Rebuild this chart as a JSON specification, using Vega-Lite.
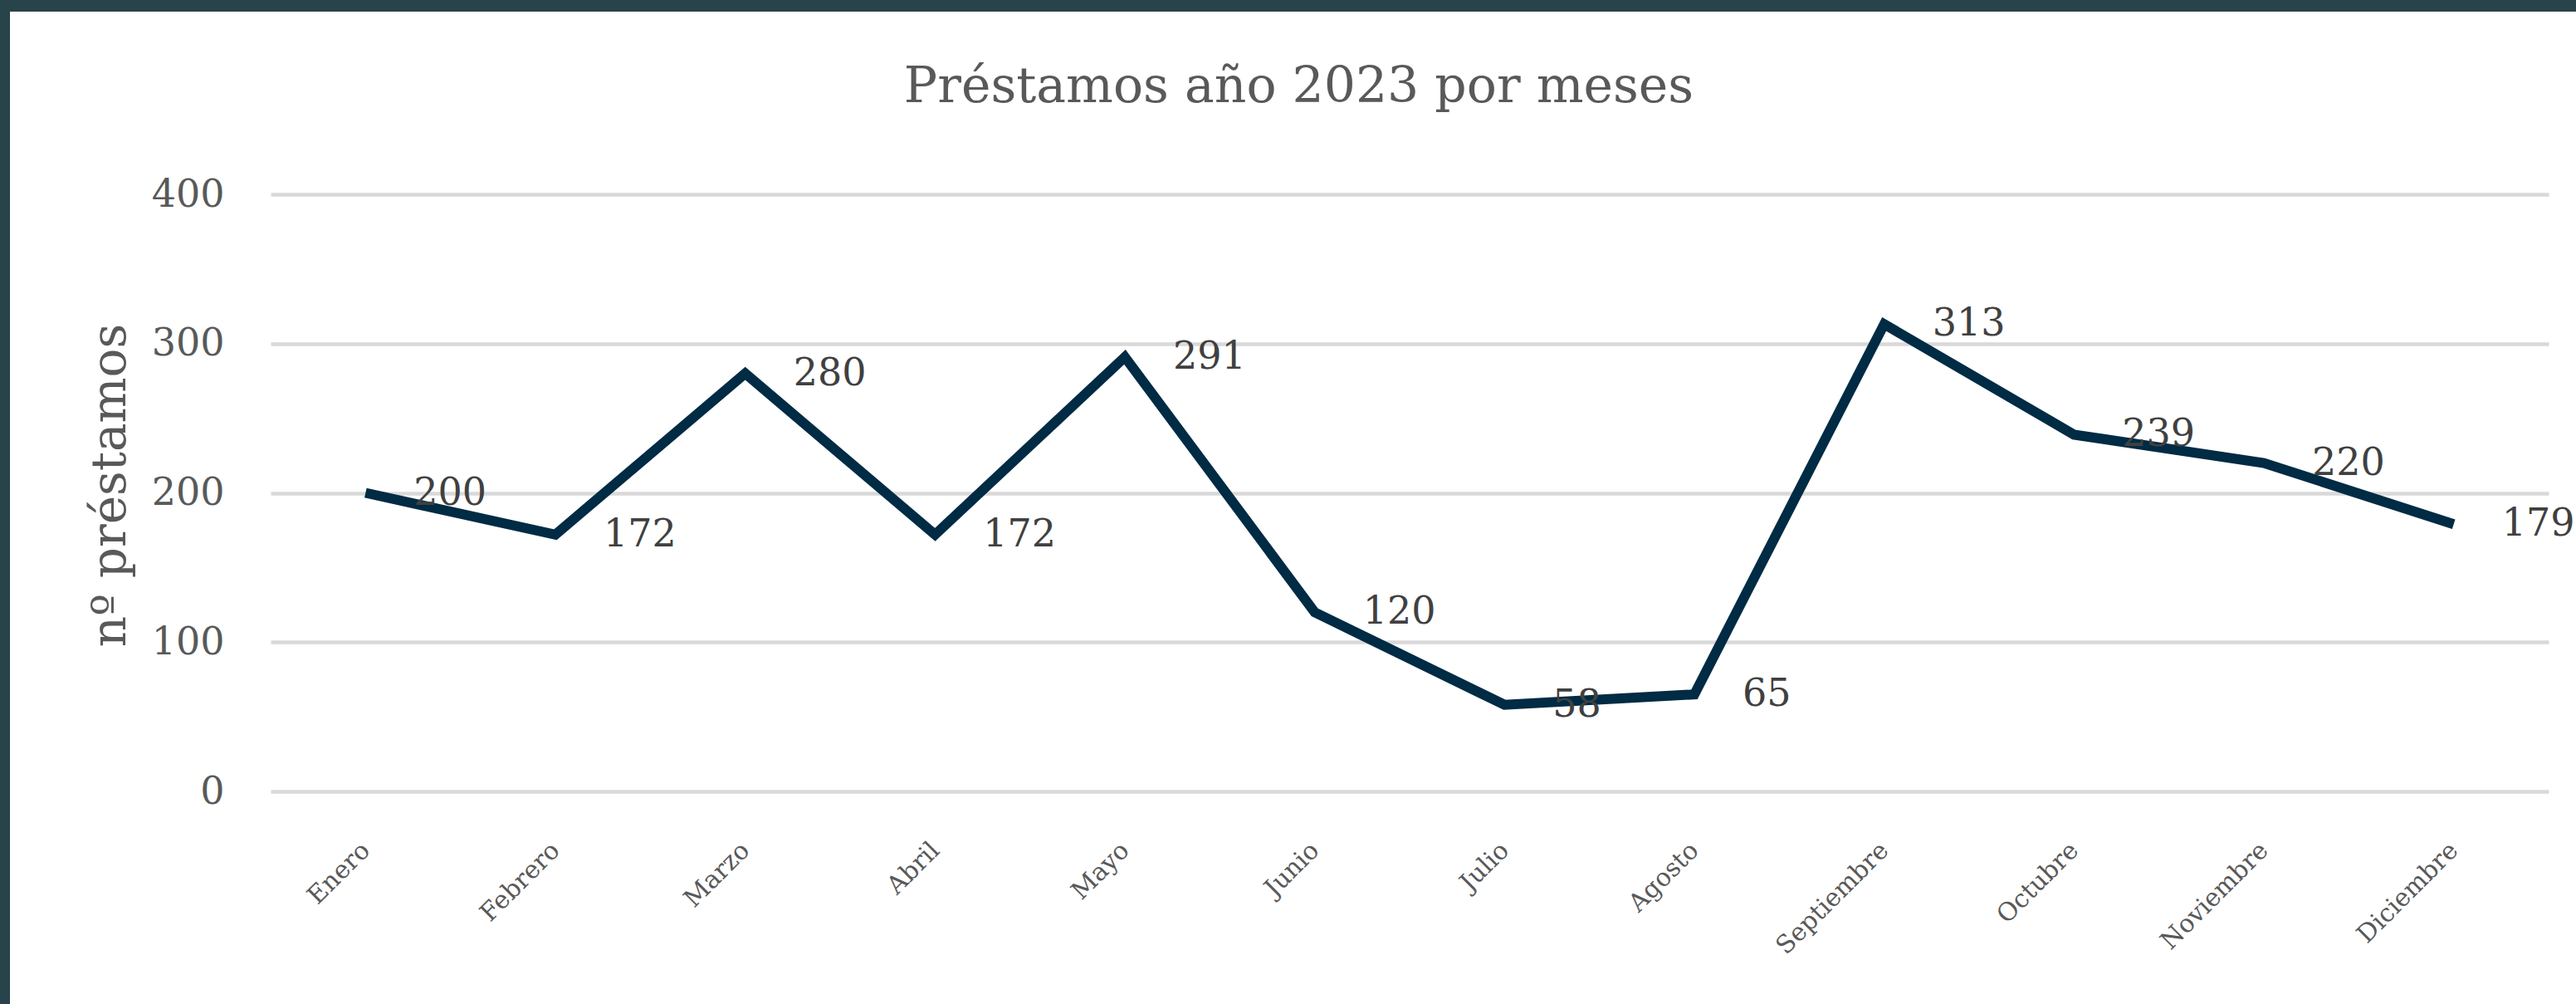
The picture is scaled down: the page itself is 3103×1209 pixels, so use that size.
{
  "$schema": "https://vega.github.io/schema/vega-lite/v6.json",
  "width": 3091,
  "height": 1195,
  "autosize": {"type": "none"},
  "padding": {"left": 12, "top": 14, "right": 0, "bottom": 0},
  "background": "#284349",
  "config": {
    "view": {"fill": "#FFFFFF", "stroke": null},
    "font": "DejaVu Serif"
  },
  "title": {
    "text": "Préstamos año 2023 por meses",
    "font": "DejaVu Serif",
    "fontSize": 60,
    "fontWeight": "normal",
    "color": "#595959",
    "anchor": "middle",
    "baseline": "alphabetic",
    "offset": 0,
    "dy": 169,
    "dx": 7
  },
  "data": {
    "values": [
      {"mes": "Enero", "prestamos": 200},
      {"mes": "Febrero", "prestamos": 172},
      {"mes": "Marzo", "prestamos": 280},
      {"mes": "Abril", "prestamos": 172},
      {"mes": "Mayo", "prestamos": 291},
      {"mes": "Junio", "prestamos": 120},
      {"mes": "Julio", "prestamos": 58},
      {"mes": "Agosto", "prestamos": 65},
      {"mes": "Septiembre", "prestamos": 313},
      {"mes": "Octubre", "prestamos": 239},
      {"mes": "Noviembre", "prestamos": 220},
      {"mes": "Diciembre", "prestamos": 179}
    ]
  },
  "encoding": {
    "x": {
      "field": "mes",
      "type": "nominal",
      "sort": null,
      "scale": {"type": "point", "range": [314, 3058], "padding": 0.5},
      "axis": {
        "orient": "bottom",
        "title": null,
        "domain": false,
        "ticks": false,
        "grid": false,
        "labelAngle": -45,
        "labelAlign": "right",
        "labelBaseline": "middle",
        "labelPadding": 0,
        "offset": -190,
        "labelFont": "DejaVu Serif",
        "labelFontSize": 30,
        "labelColor": "#595959"
      }
    },
    "y": {
      "field": "prestamos",
      "type": "quantitative",
      "scale": {"domain": [0, 400], "range": [939, 220], "nice": false, "zero": true},
      "axis": {
        "orient": "left",
        "title": "nº préstamos",
        "titleFont": "DejaVu Serif",
        "titleFontSize": 58,
        "titleFontWeight": "normal",
        "titleColor": "#595959",
        "titleAngle": -90,
        "titleAlign": "center",
        "titleBaseline": "middle",
        "titleX": -137,
        "titleY": 570,
        "values": [0, 100, 200, 300, 400],
        "domain": false,
        "ticks": false,
        "grid": true,
        "gridColor": "#D9D9D9",
        "gridWidth": 4.5,
        "labelPadding": 0,
        "offset": -258,
        "labelFont": "DejaVu Serif",
        "labelFontSize": 46,
        "labelColor": "#595959"
      }
    }
  },
  "layer": [
    {
      "mark": {"type": "line", "color": "#002B44", "strokeWidth": 12}
    },
    {
      "mark": {
        "type": "text",
        "align": "left",
        "baseline": "middle",
        "dx": 58,
        "font": "DejaVu Serif",
        "fontSize": 46,
        "color": "#404040"
      },
      "encoding": {
        "text": {"field": "prestamos", "type": "quantitative"}
      }
    }
  ]
}
